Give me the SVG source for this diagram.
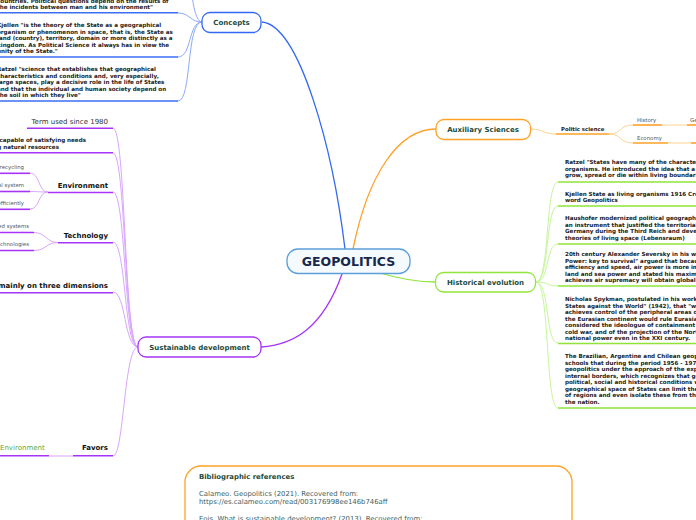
<svg xmlns="http://www.w3.org/2000/svg" width="696" height="520" viewBox="0 0 696 520">
<style>
.bg{fill:#ffffff}
.node{fill:#ffffff;stroke-width:1.3}
.lbl{font-family:"DejaVu Sans",Verdana,sans-serif;font-weight:bold;fill:#1d4b3c;text-anchor:middle}
.sm{font-family:"DejaVu Sans",Verdana,sans-serif;font-weight:bold;font-size:5.6px;fill:#222222}
.smr{font-family:"DejaVu Sans",Verdana,sans-serif;font-size:5.4px;fill:#555555}
.md{font-family:"DejaVu Sans",Verdana,sans-serif;font-weight:bold;font-size:7px;fill:#111111}
.mdr{font-family:"DejaVu Sans",Verdana,sans-serif;font-size:7px;fill:#333333}
.bib{font-family:"DejaVu Sans",Verdana,sans-serif;font-size:6.9px;fill:#3c6262}
.c{fill:none}
.blue{stroke:#3368f2;stroke-width:1.3}
.lblue{stroke:#8eaaf7;stroke-width:1}
.ublue{stroke:#3a6ff4;stroke-width:1.6}
.org{stroke:#ffa126;stroke-width:1.3}
.lorg{stroke:#ffd48f;stroke-width:1}
.uorg{stroke:#ffa126;stroke-width:1.6}
.grn{stroke:#90e63a;stroke-width:1.3}
.lgrn{stroke:#c7f59c;stroke-width:1}
.ugrn{stroke:#8ee53a;stroke-width:1.6}
.pur{stroke:#a634f6;stroke-width:1.3}
.lpur{stroke:#d8a6fb;stroke-width:1}
.upur{stroke:#a634f6;stroke-width:1.6}
</style>
<rect class="bg" x="0" y="0" width="696" height="520"/>

<g id="connectors">
  <path class="c blue" d="M262,22 C300,26 333,150 345,249"/>
  <path class="c org" d="M353,249 C368,175 398,129 436,129"/>
  <path class="c grn" d="M380,273 C400,279 418,282 436,282"/>
  <path class="c pur" d="M342,274 C322,330 292,345 261,347"/>
  <path class="c lblue" d="M202,22 C190,22 192,-40 182,-40"/>
  <path class="c lblue" d="M202,22 C190,22 190,13 178,13"/>
  <path class="c lblue" d="M202,22 C188,22 192,57 178,57"/>
  <path class="c lblue" d="M202,22 C186,22 192,101 178,101"/>
  <path class="c lorg" d="M530,129 C545,129 542,134 556,134"/>
  <path class="c lorg" d="M609,134 C622,134 619,125 633,125"/>
  <path class="c lorg" d="M609,134 C622,134 619,143 633,143"/>
  <path class="c lorg" d="M662,125 L687,125"/>
  <path class="c lorg" d="M668,143 L691,143"/>
  <path class="c lgrn" d="M536,282 C550,282 545,182 558,182"/>
  <path class="c lgrn" d="M536,282 C550,282 545,206 558,206"/>
  <path class="c lgrn" d="M536,282 C550,282 545,244 558,244"/>
  <path class="c lgrn" d="M536,282 C550,282 545,286 558,286"/>
  <path class="c lgrn" d="M536,282 C550,282 545,343 558,343"/>
  <path class="c lgrn" d="M536,282 C550,282 545,408 558,408"/>
  <path class="c lpur" d="M138,347 C124,347 126,128 113,128"/>
  <path class="c lpur" d="M138,347 C124,347 126,153 113,153"/>
  <path class="c lpur" d="M138,347 C124,347 126,192 113,192"/>
  <path class="c lpur" d="M138,347 C124,347 126,242 113,242"/>
  <path class="c lpur" d="M138,347 C124,347 126,292 113,292"/>
  <path class="c lpur" d="M138,347 C124,347 124,456 113,456"/>
  <path class="c lpur" d="M48,192 C38,192 40,173 30,173"/>
  <path class="c lpur" d="M48,192 C38,192 40,191.5 30,191.5"/>
  <path class="c lpur" d="M48,192 C38,192 40,209 30,209"/>
  <path class="c lpur" d="M58,242.5 C46,242.5 46,232.5 34,232.5"/>
  <path class="c lpur" d="M58,242.5 C46,242.5 46,250.5 34,250.5"/>
  <path class="c lpur" d="M49,456 L73,456"/>
</g>

<g id="center">
  <rect x="287" y="249" width="123" height="24.5" rx="11" fill="#f5faff" stroke="#5c9fd8" stroke-width="1.3"/>
  <text x="348.5" y="266" class="lbl" font-size="12.5" style="fill:#17284a">GEOPOLITICS</text>
</g>

<g id="concepts">
  <rect class="node" x="202" y="12.5" width="59" height="20" rx="8" stroke="#3368f2"/>
  <text x="231.5" y="25" class="lbl" font-size="7">Concepts</text>
</g>
<g id="concept-a">
  <text class="sm" x="-3" y="3">countries. Political questions depend on the results of</text>
  <text class="sm" x="-3" y="9">the incidents between man and his environment"</text>
  <path class="c ublue" d="M0,12.7 L178,12.7"/>
</g>
<g id="concept-kjellen">
  <text class="sm" x="-3" y="27">Kjellen "is the theory of the State as a geographical</text>
  <text class="sm" x="-3" y="33.5">organism or phenomenon in space, that is, the State as</text>
  <text class="sm" x="-3" y="40">land (country), territory, domain or more distinctly as a</text>
  <text class="sm" x="-3" y="46.5">kingdom. As Political Science it always has in view the</text>
  <text class="sm" x="-3" y="53">unity of the State."</text>
  <path class="c ublue" d="M0,57 L178,57"/>
</g>
<g id="concept-ratzel">
  <text class="sm" x="-3" y="71">Ratzel "science that establishes that geographical</text>
  <text class="sm" x="-3" y="77.5">characteristics and conditions and, very especially,</text>
  <text class="sm" x="-3" y="84">large spaces, play a decisive role in the life of States</text>
  <text class="sm" x="-3" y="90.5">and that the individual and human society depend on</text>
  <text class="sm" x="-3" y="97">the soil in which they live"</text>
  <path class="c ublue" d="M0,101 L178,101"/>
</g>

<g id="auxiliary">
  <rect class="node" x="436" y="119.5" width="94.5" height="20" rx="8" stroke="#ffa126"/>
  <text x="483" y="132" class="lbl" font-size="7">Auxiliary Sciences</text>
</g>
<g id="politic-science">
  <text class="sm" x="561" y="131" style="font-size:5.4px">Politic science</text>
  <path class="c uorg" d="M556,134 L609,134"/>
</g>
<g id="history">
  <text class="smr" x="637" y="122">History</text>
  <path class="c uorg" d="M633,125 L662,125"/>
</g>
<g id="history-g">
  <text class="smr" x="690" y="122">Geography</text>
  <path class="c uorg" d="M687,125 L696,125"/>
</g>
<g id="economy">
  <text class="smr" x="637" y="140">Economy</text>
  <path class="c uorg" d="M633,143 L668,143"/>
  <path class="c uorg" d="M691,143 L696,143"/>
</g>

<g id="historical">
  <rect class="node" x="435.5" y="272.5" width="100" height="19.5" rx="8" stroke="#90e63a"/>
  <text x="485.5" y="284.5" class="lbl" font-size="7">Historical evolution</text>
</g>
<g id="hist-1">
  <text class="sm" x="565" y="164">Ratzel "States have many of the characteristics of living</text>
  <text class="sm" x="565" y="170.5">organisms. He introduced the idea that a state must</text>
  <text class="sm" x="565" y="177">grow, spread or die within living boundaries"</text>
  <path class="c ugrn" d="M558,182 L696,182"/>
</g>
<g id="hist-2">
  <text class="sm" x="565" y="195.5">Kjellen State as living organisms 1916 Created the</text>
  <text class="sm" x="565" y="202">word Geopolitics</text>
  <path class="c ugrn" d="M558,206 L696,206"/>
</g>
<g id="hist-3">
  <text class="sm" x="565" y="220">Haushofer modernized political geography as</text>
  <text class="sm" x="565" y="226.5">an instrument that justified the territorial expansion of</text>
  <text class="sm" x="565" y="233">Germany during the Third Reich and developed the</text>
  <text class="sm" x="565" y="239.5">theories of living space (Lebensraum)</text>
  <path class="c ugrn" d="M558,244 L696,244"/>
</g>
<g id="hist-4">
  <text class="sm" x="565" y="256">20th century Alexander Seversky in his work "Air</text>
  <text class="sm" x="565" y="262.5">Power: key to survival" argued that because of its</text>
  <text class="sm" x="565" y="269">efficiency and speed, air power is more important than</text>
  <text class="sm" x="565" y="275.5">land and sea power and stated his maxim "whoever</text>
  <text class="sm" x="565" y="282">achieves air supremacy will obtain global power"</text>
  <path class="c ugrn" d="M558,286 L696,286"/>
</g>
<g id="hist-5">
  <text class="sm" x="565" y="301.3">Nicholas Spykman, postulated in his work "The United</text>
  <text class="sm" x="565" y="307.8">States against the World" (1942), that "whoever</text>
  <text class="sm" x="565" y="314.3">achieves control of the peripheral areas of</text>
  <text class="sm" x="565" y="320.8">the Eurasian continent would rule Eurasia", is</text>
  <text class="sm" x="565" y="327.3">considered the ideologue of containment during the</text>
  <text class="sm" x="565" y="333.8">cold war, and of the projection of the North American</text>
  <text class="sm" x="565" y="340.3">national power even in the XXI century.</text>
  <path class="c ugrn" d="M558,343.5 L696,343.5"/>
</g>
<g id="hist-6">
  <text class="sm" x="565" y="358">The Brazilian, Argentine and Chilean geopolitical</text>
  <text class="sm" x="565" y="364.5">schools that during the period 1956 - 1973 developed</text>
  <text class="sm" x="565" y="371">geopolitics under the approach of the expansion of</text>
  <text class="sm" x="565" y="377.5">internal borders, which recognizes that geographical,</text>
  <text class="sm" x="565" y="384">political, social and historical conditions within the</text>
  <text class="sm" x="565" y="390.5">geographical space of States can limit the development</text>
  <text class="sm" x="565" y="397">of regions and even isolate these from the center of</text>
  <text class="sm" x="565" y="403.5">the nation.</text>
  <path class="c ugrn" d="M558,408 L696,408"/>
</g>

<g id="sustainable">
  <rect class="node" x="138" y="337" width="123" height="20" rx="8" stroke="#a634f6"/>
  <text x="199.5" y="349.5" class="lbl" font-size="7">Sustainable development</text>
</g>
<g id="term">
  <text class="mdr" x="108" y="124.3" text-anchor="end">Term used since 1980</text>
  <path class="c upur" d="M27,128.3 L113,128.3"/>
</g>
<g id="definition">
  <text class="sm" x="86" y="142" text-anchor="end">Development capable of satisfying needs</text>
  <text class="sm" x="59" y="149" text-anchor="end">without compromising natural resources</text>
  <path class="c upur" d="M0,152.7 L113,152.7"/>
</g>
<g id="environment">
  <text class="md" x="108" y="188" text-anchor="end">Environment</text>
  <path class="c upur" d="M48,192.5 L113,192.5"/>
</g>
<g id="env-1">
  <text class="smr" x="24" y="169" text-anchor="end">Promote recycling</text>
  <path class="c upur" d="M0,173.3 L30,173.3"/>
</g>
<g id="env-2">
  <text class="smr" x="24" y="187" text-anchor="end">Efficient electrical system</text>
  <path class="c upur" d="M0,191.5 L30,191.5"/>
</g>
<g id="env-3">
  <text class="smr" x="24" y="205" text-anchor="end">Use energy efficiently</text>
  <path class="c upur" d="M0,209.3 L30,209.3"/>
</g>
<g id="technology">
  <text class="md" x="108" y="238.3" text-anchor="end">Technology</text>
  <path class="c upur" d="M58,242.7 L113,242.7"/>
</g>
<g id="tech-1">
  <text class="smr" x="29" y="228.3" text-anchor="end">Use of automated systems</text>
  <path class="c upur" d="M0,232.5 L34,232.5"/>
</g>
<g id="tech-2">
  <text class="smr" x="29" y="246.3" text-anchor="end">Clean technologies</text>
  <path class="c upur" d="M0,250.5 L34,250.5"/>
</g>
<g id="dimensions">
  <text class="md" x="108" y="288.3" text-anchor="end">Sustainable development is based mainly on three dimensions</text>
  <path class="c upur" d="M0,292.7 L113,292.7"/>
</g>
<g id="favors">
  <text class="md" x="108" y="450.3" text-anchor="end">Favors</text>
  <path class="c upur" d="M73,455.8 L113,455.8"/>
</g>
<g id="favors-env">
  <text class="mdr" x="0" y="450.3" style="fill:#5aa83c">Environment</text>
  <path class="c upur" d="M0,455.8 L49,455.8"/>
</g>

<g id="bibliography">
  <rect x="185" y="466" width="387" height="90" rx="16" fill="#ffffff" stroke="#ffa126" stroke-width="1.3"/>
  <text class="bib" x="199" y="479" style="font-weight:bold;fill:#1d4b3c">Bibliographic references</text>
  <text class="bib" x="199" y="496">Calameo. Geopolitics (2021). Recovered from:</text>
  <text class="bib" x="199" y="503.5">https://es.calameo.com/read/003176998ee146b746aff</text>
  <text class="bib" x="199" y="520.5">Eois. What is sustainable development? (2013). Recovered from:</text>
</g>
</svg>
